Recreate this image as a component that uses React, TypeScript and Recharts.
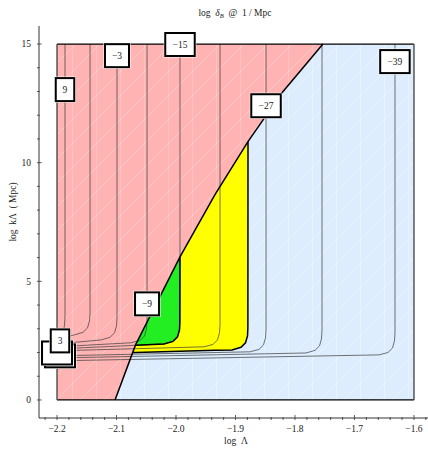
import React from "react";
import { ComposedChart, XAxis, YAxis, Area, Line, Scatter } from "recharts";

// axis ticks
const X_MAJOR = [-2.2, -2.1, -2.0, -1.9, -1.8, -1.7, -1.6];
const X_MINOR = [
  -2.22, -2.18, -2.16, -2.14, -2.12, -2.08, -2.06, -2.04, -2.02, -1.98, -1.96,
  -1.94, -1.92, -1.88, -1.86, -1.84, -1.82, -1.78, -1.76, -1.74, -1.72, -1.68,
  -1.66, -1.64, -1.62, -1.58,
];
const Y_MAJOR = [0, 5, 10, 15];
const Y_MINOR = [1, 2, 3, 4, 6, 7, 8, 9, 11, 12, 13, 14];

// boundary between the red and blue regions
const BOUNDARY_X = [-2.1025, -2.068, -1.9933, -1.9345, -1.879, -1.8218, -1.753];
const BOUNDARY_Y = [0, 2.32, 6.03, 8.65, 10.89, 12.95, 15];

// green patch (lower edge = contour -15)
const GREEN_X = [-2.068, -2.0202, -2.005, -1.9975, -1.9941, -1.9936, -1.9933];
const GREEN_LO = [2.31, 2.36, 2.47, 2.66, 2.95, 3.29, 6.03];
const GREEN_HI = [2.32, 4.69, 5.45, 5.82, 5.99, 6.01, 6.03];

// yellow patch
const YELLOW_X = [-2.0726, -2.068, -1.9933, -1.9345, -1.9059, -1.8908, -1.8832, -1.8798, -1.8792, -1.879];
const YELLOW_LO = [2.0, 2.0, 2.05, 2.09, 2.11, 2.22, 2.41, 2.7, 3.04, 10.89];
const YELLOW_HI = [2.0, 2.32, 6.03, 8.65, 9.8, 10.41, 10.72, 10.86, 10.88, 10.89];

// contour lines of log delta_B
const C_9 = [[-2.2, 2.66], [-2.1933, 2.72], [-2.1891, 2.91], [-2.1874, 3.16], [-2.1866, 3.5], [-2.1866, 15]];
const C_3 = [[-2.2, 2.53], [-2.1714, 2.74], [-2.1563, 2.85], [-2.1487, 3.04], [-2.1454, 3.33], [-2.1445, 3.67], [-2.1445, 15]];
const C_M3 = [[-2.2, 2.36], [-2.1261, 2.53], [-2.1109, 2.64], [-2.1034, 2.83], [-2.1, 3.12], [-2.0992, 3.46], [-2.0992, 15]];
const C_M9 = [[-2.2, 2.24], [-2.0756, 2.41], [-2.0605, 2.51], [-2.0529, 2.7], [-2.0496, 3.0], [-2.0487, 3.33], [-2.0487, 15]];
const C_M15 = [[-2.2, 2.15], [-2.0202, 2.36], [-2.005, 2.47], [-1.9975, 2.66], [-1.9941, 2.95], [-1.9933, 3.29], [-1.9933, 15]];
const C_M21 = [[-2.2, 2.07], [-1.9529, 2.24], [-1.9378, 2.34], [-1.9303, 2.53], [-1.9269, 2.83], [-1.926, 3.16], [-1.926, 15]];
const C_M27 = [[-2.2, 1.86], [-1.8756, 2.03], [-1.8605, 2.13], [-1.8529, 2.32], [-1.8496, 2.62], [-1.8487, 2.95], [-1.8487, 15]];
const C_M33 = [[-2.2, 1.77], [-1.7815, 1.98], [-1.7664, 2.09], [-1.7588, 2.28], [-1.7555, 2.57], [-1.7546, 2.91], [-1.7546, 15]];
const C_M39 = [[-2.2, 1.65], [-1.6588, 1.9], [-1.6437, 2.0], [-1.6361, 2.19], [-1.6328, 2.49], [-1.6319, 2.83], [-1.6319, 15]];

// contour labels (blank ones are the stacked boxes behind "3")
const LABEL_TEXT = ["9", "\u22123", "\u221215", "\u221227", "\u221239", "\u22129", "", "", "3"];
const LABEL_X = [-2.1866, -2.0992, -1.9933, -1.8487, -1.632, -2.0487, -2.195, -2.2, -2.195];
const LABEL_Y = [13.08, 14.51, 14.98, 12.4, 14.26, 4.05, 1.86, 1.98, 2.49];

const X_DOMAIN = [-2.2303, -1.5697];
const Y_DOMAIN = [-0.76, 15.76];
const SERIF = '"Liberation Serif", "Times New Roman", serif';

const pts = (arr: number[][]) => arr.map(([x, y]) => ({ x, y }));
const CONTOURS = [C_9, C_3, C_M3, C_M9, C_M15, C_M21, C_M27, C_M33, C_M39];

const pinkData = [
  { x: -2.2, range: [0, 15] },
  ...BOUNDARY_X.map((x, i) => ({ x, range: [BOUNDARY_Y[i], 15] })),
];
const blueData = [
  ...BOUNDARY_X.map((x, i) => ({ x, range: [0, BOUNDARY_Y[i]] })),
  { x: -1.6, range: [0, 15] },
];
const greenData = GREEN_X.map((x, i) => ({ x, range: [GREEN_LO[i], GREEN_HI[i]] }));
const yellowData = YELLOW_X.map((x, i) => ({ x, range: [YELLOW_LO[i], YELLOW_HI[i]] }));
const boundaryLine = BOUNDARY_X.map((x, i) => ({ x, y: BOUNDARY_Y[i] }));
const greenEdge = GREEN_X.map((x, i) => ({ x, y: GREEN_LO[i] }));
const yellowEdge = YELLOW_X.map((x, i) => ({ x, y: YELLOW_LO[i] }));
const labels = LABEL_TEXT.map((text, i) => ({ x: LABEL_X[i], y: LABEL_Y[i], text }));

const fmtX = (v: number) => (v < 0 ? "\u2212" : "") + Math.abs(v).toFixed(1);
const isMajorX = (v: number) => X_MAJOR.some((m) => Math.abs(m - v) < 1e-6);

function XTick(props: any) {
  const { x, y, payload, top } = props;
  const major = isMajorX(payload.value);
  const len = major ? 5 : 3;
  const dir = top ? 1 : -1;
  return (
    <g>
      <line x1={x} y1={y} x2={x} y2={y + dir * len} stroke="#333" strokeWidth={0.8} />
      {!top && major && (
        <text x={x} y={y + 12} textAnchor="middle" fontSize={9.5} fontFamily={SERIF} fill="#222">
          {fmtX(payload.value)}
        </text>
      )}
    </g>
  );
}

function YTick(props: any) {
  const { x, y, payload, right } = props;
  const major = Y_MAJOR.includes(payload.value);
  const len = major ? 4.7 : 2.7;
  const dir = right ? -1 : 1;
  return (
    <g>
      <line x1={x} y1={y} x2={x + dir * len} y2={y} stroke="#333" strokeWidth={0.8} />
      {!right && major && (
        <text x={x - 6} y={y + 3.2} textAnchor="end" fontSize={9.5} fontFamily={SERIF} fill="#222">
          {payload.value}
        </text>
      )}
    </g>
  );
}

function LabelBox(props: any) {
  const { cx, cy, payload } = props;
  const t: string = payload.text;
  const w = t ? 13 + 5.5 * t.length : 30;
  const h = 23;
  return (
    <g>
      <rect x={cx - w / 2 - 1.5} y={cy - h / 2 - 1.5} width={w + 3} height={h + 3} fill="#fff" />
      <rect x={cx - w / 2} y={cy - h / 2} width={w} height={h} fill="#fff" stroke="#000" strokeWidth={2} />
      {t && (
        <text x={cx} y={cy + 3.3} textAnchor="middle" fontSize={9.5} fontFamily={SERIF} fill="#222">
          {t}
        </text>
      )}
    </g>
  );
}

export default function App() {
  return (
    <div style={{ position: "absolute", left: 0, top: 0, width: 428, height: 450, overflow: "hidden", background: "#fff" }}>
      <svg width={0} height={0} style={{ position: "absolute" }}>
        <defs>
          <pattern id="meshPink" patternUnits="userSpaceOnUse" width={24} height={24}>
            <rect width={24} height={24} fill="#ffb3b3" />
            <path d="M0,24 L24,0" stroke="#fff" strokeOpacity={0.35} strokeWidth={0.8} />
            <path d="M0.5,0 L0.5,24" stroke="#fff" strokeOpacity={0.25} strokeWidth={0.8} />
          </pattern>
          <pattern id="meshBlue" patternUnits="userSpaceOnUse" width={24} height={24}>
            <rect width={24} height={24} fill="#ddedfe" />
            <path d="M0,24 L24,0" stroke="#fff" strokeOpacity={0.45} strokeWidth={0.8} />
            <path d="M0.5,0 L0.5,24" stroke="#fff" strokeOpacity={0.35} strokeWidth={0.8} />
          </pattern>
        </defs>
      </svg>
      <ComposedChart width={433} height={450} margin={{ top: 26, right: 1, bottom: 0, left: 0 }}>
        <XAxis
          type="number"
          dataKey="x"
          domain={X_DOMAIN}
          allowDataOverflow
          ticks={[...X_MAJOR, ...X_MINOR]}
          interval={0}
          tickSize={0}
          tickLine={false}
          height={32}
          axisLine={{ stroke: "#333" }}
          tick={(p: any) => <XTick {...p} />}
        />
        <XAxis
          xAxisId="top"
          orientation="top"
          type="number"
          dataKey="x"
          domain={X_DOMAIN}
          allowDataOverflow
          ticks={[...X_MAJOR, ...X_MINOR]}
          interval={0}
          tickSize={0}
          tickLine={false}
          height={0}
          axisLine={{ stroke: "#333" }}
          tick={(p: any) => <XTick {...p} top />}
        />
        <YAxis
          type="number"
          dataKey="y"
          domain={Y_DOMAIN}
          allowDataOverflow
          ticks={[...Y_MAJOR, ...Y_MINOR]}
          interval={0}
          tickSize={0}
          tickLine={false}
          width={39}
          axisLine={{ stroke: "#333" }}
          tick={(p: any) => <YTick {...p} />}
        />
        <YAxis
          yAxisId="r"
          orientation="right"
          type="number"
          domain={Y_DOMAIN}
          allowDataOverflow
          ticks={[...Y_MAJOR, ...Y_MINOR]}
          interval={0}
          tickSize={0}
          tickLine={false}
          width={0}
          axisLine={{ stroke: "#333" }}
          tick={(p: any) => <YTick {...p} right />}
        />

        <Area data={pinkData} dataKey="range" type="linear" stroke="none" fill="url(#meshPink)" fillOpacity={1} dot={false} activeDot={false} isAnimationActive={false} />
        <Area data={blueData} dataKey="range" type="linear" stroke="none" fill="url(#meshBlue)" fillOpacity={1} dot={false} activeDot={false} isAnimationActive={false} />
        <Area data={yellowData} dataKey="range" type="linear" stroke="none" fill="#ffff00" fillOpacity={1} dot={false} activeDot={false} isAnimationActive={false} />
        <Area data={greenData} dataKey="range" type="linear" stroke="none" fill="#22ee22" fillOpacity={1} dot={false} activeDot={false} isAnimationActive={false} />

        {CONTOURS.map((c, i) => (
          <Line key={i} data={pts(c)} dataKey="y" type="linear" stroke="#3a3a3a" strokeOpacity={0.7} strokeWidth={1} dot={false} activeDot={false} isAnimationActive={false} />
        ))}

        <Line data={greenEdge} dataKey="y" type="linear" stroke="#000" strokeWidth={1.5} dot={false} activeDot={false} isAnimationActive={false} />
        <Line data={yellowEdge} dataKey="y" type="linear" stroke="#000" strokeWidth={1.5} dot={false} activeDot={false} isAnimationActive={false} />
        <Line data={boundaryLine} dataKey="y" type="linear" stroke="#000" strokeWidth={1.5} dot={false} activeDot={false} isAnimationActive={false} />
        <Line data={[{ x: -2.2, y: 15 }, { x: -1.6, y: 15 }]} dataKey="y" stroke="#000" strokeWidth={1.2} dot={false} activeDot={false} isAnimationActive={false} />
        <Line data={[{ x: -2.2, y: 0 }, { x: -1.6, y: 0 }]} dataKey="y" stroke="#000" strokeWidth={1.2} dot={false} activeDot={false} isAnimationActive={false} />
        <Line data={[{ x: -2.2, y: 0 }, { x: -2.2, y: 15 }]} dataKey="y" stroke="#555" strokeWidth={1.5} dot={false} activeDot={false} isAnimationActive={false} />
        <Line data={[{ x: -1.6, y: 0 }, { x: -1.6, y: 15 }]} dataKey="y" stroke="#555" strokeWidth={1.5} dot={false} activeDot={false} isAnimationActive={false} />

        <Scatter data={labels} dataKey="y" shape={(p: any) => <LabelBox {...p} />} isAnimationActive={false} />
      </ComposedChart>
      <svg width={428} height={450} style={{ position: "absolute", left: 0, top: 0, pointerEvents: "none" }}>
        <text x={235} y={16} textAnchor="middle" fontSize={9.5} fontFamily={SERIF} fill="#222" style={{ whiteSpace: "pre" }}>
          <tspan>{"log  "}</tspan>
          <tspan fontStyle="italic">{"\u03b4"}</tspan>
          <tspan fontStyle="italic" fontSize={6.5} dy={2}>{"B"}</tspan>
          <tspan dy={-2}>{"  @  1 / Mpc"}</tspan>
        </text>
        <text x={236} y={444} textAnchor="middle" fontSize={9.5} fontFamily={SERIF} fill="#222" style={{ whiteSpace: "pre" }}>
          {"log  \u039b"}
        </text>
        <text
          x={16}
          y={212}
          textAnchor="middle"
          fontSize={9.5}
          fontFamily={SERIF}
          fill="#222"
          transform="rotate(-90 16 212)"
          style={{ whiteSpace: "pre" }}
        >
          {"log  k\u039b  ( Mpc)"}
        </text>
      </svg>
    </div>
  );
}
